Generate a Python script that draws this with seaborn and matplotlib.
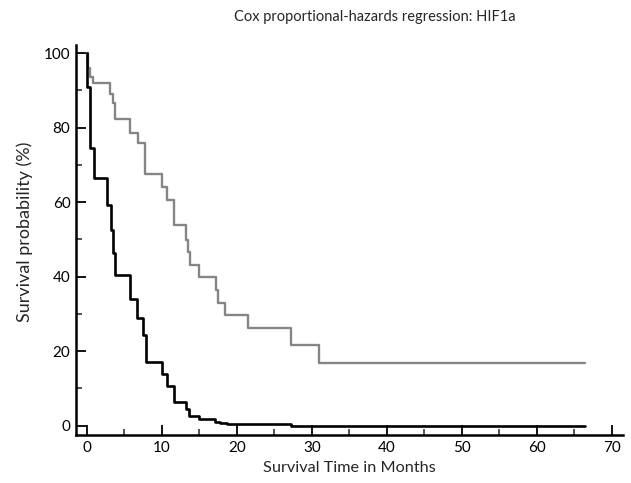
import matplotlib
matplotlib.use("Agg")
import matplotlib.pyplot as plt
from matplotlib.ticker import MultipleLocator
import seaborn as sns
import pandas as pd

# Kaplan-Meier style step points (time in months, survival %)
low_time = [0, 0.2, 0.5, 0.9, 3.1, 3.5, 3.8, 5.8, 6.8, 7.8, 10.0, 10.7, 11.7,
            13.2, 13.5, 13.8, 15.0, 17.2, 17.5, 18.5, 21.5, 27.3, 31.0, 66.4]
low_surv = [100, 96, 93.7, 92, 89, 86.6, 82.2, 78.5, 76, 67.6, 64.2, 60.6, 53.9,
            49.8, 46.7, 43.2, 39.9, 36.5, 32.9, 29.7, 26.2, 21.7, 16.9, 16.9]

high_time = [0, 0.1, 0.5, 1.0, 2.7, 3.3, 3.55, 3.8, 5.8, 6.7, 7.5, 7.9, 10.0,
             10.7, 11.6, 13.2, 13.7, 15.0, 17.1, 17.8, 18.7, 27.3, 66.4]
high_surv = [100, 91, 74.5, 66.4, 59.3, 52.6, 46.3, 40.5, 34, 29, 24.4, 17, 13.9,
             10.7, 6.3, 4.4, 2.6, 1.8, 1.1, 0.7, 0.4, 0.0, 0.0]

groups = ["low", "high"]

df = pd.concat([
    pd.DataFrame({"time": low_time, "surv": low_surv, "group": groups[0]}),
    pd.DataFrame({"time": high_time, "surv": high_surv, "group": groups[1]}),
], ignore_index=True)

sns.set_theme(style="ticks")
plt.rcParams["font.family"] = ["Lato", "DejaVu Sans"]

fig = plt.figure(figsize=(6.31, 4.83), dpi=100)
ax = fig.add_axes([76 / 631, 48 / 483, 547 / 631, 390 / 483])

sns.lineplot(data=df, x="time", y="surv", hue="group",
             palette={"low": "#858585", "high": "#000000"},
             drawstyle="steps-post", estimator=None, sort=False,
             linewidth=1.7, legend=False, ax=ax)
# draw the dark curve on top
for line in ax.get_lines():
    if line.get_color() in ("#000000", (0.0, 0.0, 0.0, 1.0)):
        line.set_zorder(3)
        line.set_linewidth(1.9)

ax.set_xlim(-1.43, 71.5)
ax.set_ylim(-2.5, 102.2)
ax.xaxis.set_major_locator(MultipleLocator(10))
ax.xaxis.set_minor_locator(MultipleLocator(5))
ax.yaxis.set_major_locator(MultipleLocator(20))
ax.yaxis.set_minor_locator(MultipleLocator(10))
ax.tick_params(which="major", direction="in", length=7, width=1.3,
               labelsize=11, pad=4, colors="black")
ax.tick_params(which="minor", direction="in", length=4, width=1.1)

for side in ("top", "right"):
    ax.spines[side].set_visible(False)
for side in ("left", "bottom"):
    ax.spines[side].set_linewidth(1.8)
    ax.spines[side].set_color("black")

ax.set_xlabel("Survival Time in Months", fontsize=11.7, labelpad=5)
ax.set_ylabel("Survival probability (%)", fontsize=13)
ax.yaxis.set_label_coords(-0.078, 0.52)

fig.text(375 / 631, 1 - 17 / 483, "Cox proportional-hazards regression: HIF1a",
         ha="center", va="center", fontsize=10.5)

fig.savefig("out.png", dpi=100, facecolor="white")
